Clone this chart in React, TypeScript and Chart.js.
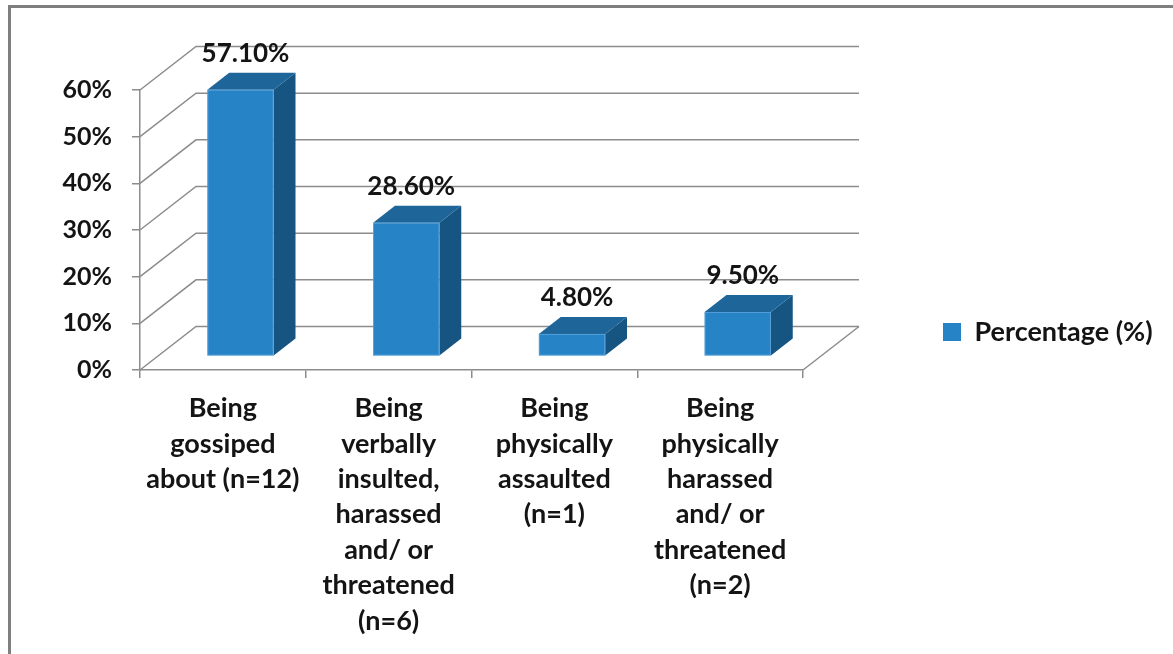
import React, { useEffect, useRef } from 'react';
import { Chart, registerables } from 'chart.js';

Chart.register(...registerables);

// ---------- data ----------
const categories: string[][] = [
  ['Being', 'gossiped', 'about (n=12)'],
  ['Being', 'verbally', 'insulted,', 'harassed', 'and/ or', 'threatened', '(n=6)'],
  ['Being', 'physically', 'assaulted', '(n=1)'],
  ['Being', 'physically', 'harassed', 'and/ or', 'threatened', '(n=2)'],
];
const seriesLabel = 'Percentage (%)';
const percentages = [57.1, 28.6, 4.8, 9.5];
const yMin = 0;
const yMax = 60;
const yStep = 10;

// ---------- styles ----------
const FONT = "Lato, 'Open Sans', sans-serif";
const TEXT = '#141414';
const GRID = '#8c8c8c';
const FRONT = '#2683c6';
const TOP = '#1e6599';
const SIDE = '#165582';
const EDGE = 'rgba(120,180,230,0.55)';
// 3D projection of the full depth of the plot
const DX = 56;
const DY = -43.5;
// bar depth position (fraction of full depth)
const F1 = 0.315;
const F2 = 0.705;
// legend placement (left edge of legend box, vertical centre)
const LEGEND_LEFT = 933;
const LEGEND_CY = 332;

const threeD = {
  id: 'threeD',
  afterLayout(chart: any) {
    const lg = chart.legend;
    if (!lg) return;
    lg.left = LEGEND_LEFT;
    lg.right = chart.width;
    lg.width = lg.right - lg.left;
    lg.top = LEGEND_CY - 50;
    lg.bottom = LEGEND_CY + 50;
    lg.height = 100;
  },
  beforeDraw(chart: any) {
    const ctx = chart.ctx;
    ctx.save();
    ctx.strokeStyle = '#7f7f7f';
    ctx.lineWidth = 3;
    ctx.strokeRect(9.5, 6.5, chart.width + 40, chart.height + 40);
    ctx.restore();
  },
  beforeDatasetsDraw(chart: any) {
    const { ctx, chartArea } = chart;
    const { left, right, bottom } = chartArea;
    const yScale = chart.scales.y;
    ctx.save();
    // back wall + side wall gridlines
    ctx.strokeStyle = GRID;
    ctx.lineWidth = 1.5;
    yScale.ticks.forEach((t: any) => {
      const py = yScale.getPixelForValue(t.value);
      ctx.beginPath();
      ctx.moveTo(left, py);
      ctx.lineTo(left + DX, py + DY);
      ctx.lineTo(right + DX, py + DY);
      ctx.stroke();
    });
    // floor right edge
    ctx.beginPath();
    ctx.moveTo(right, bottom);
    ctx.lineTo(right + DX, bottom + DY);
    ctx.stroke();

    // 3D bars
    const meta = chart.getDatasetMeta(0);
    const ds = chart.data.datasets[0];
    const ddx = (F2 - F1) * DX;
    const ddy = (F2 - F1) * DY;
    meta.data.forEach((el: any, i: number) => {
      const p = el.getProps(['x', 'y', 'base', 'width'], true);
      const xL = p.x - p.width / 2 + F1 * DX;
      const xR = p.x + p.width / 2 + F1 * DX;
      const yT = p.y + F1 * DY;
      const yB = p.base + F1 * DY;
      // side
      ctx.fillStyle = SIDE;
      ctx.beginPath();
      ctx.moveTo(xR, yT);
      ctx.lineTo(xR + ddx, yT + ddy);
      ctx.lineTo(xR + ddx, yB + ddy);
      ctx.lineTo(xR, yB);
      ctx.closePath();
      ctx.fill();
      // top
      ctx.fillStyle = TOP;
      ctx.beginPath();
      ctx.moveTo(xL, yT);
      ctx.lineTo(xL + ddx, yT + ddy);
      ctx.lineTo(xR + ddx, yT + ddy);
      ctx.lineTo(xR, yT);
      ctx.closePath();
      ctx.fill();
      // front
      ctx.fillStyle = FRONT;
      ctx.fillRect(xL, yT, xR - xL, yB - yT);
      ctx.strokeStyle = EDGE;
      ctx.lineWidth = 1;
      ctx.strokeRect(xL + 0.5, yT + 0.5, xR - xL - 1, yB - yT - 1);

      // data label
      const v = ds.data[i] as number;
      ctx.fillStyle = TEXT;
      ctx.font = `bold 26px ${FONT}`;
      ctx.textAlign = 'center';
      ctx.textBaseline = 'middle';
      ctx.fillText(v.toFixed(2) + '%', (xL + xR) / 2 + 5, yT + ddy - 19);
    });
    ctx.restore();
    return false;
  },
};

export default function App() {
  const ref = useRef<HTMLCanvasElement>(null);
  useEffect(() => {
    const chart = new Chart(ref.current as HTMLCanvasElement, {
      type: 'bar',
      data: {
        labels: categories,
        datasets: [
          {
            label: seriesLabel,
            data: percentages,
            backgroundColor: FRONT,
            borderWidth: 0,
            categoryPercentage: 1,
            barPercentage: 0.4,
          },
        ],
      },
      options: {
        responsive: false,
        animation: false,
        layout: { padding: { top: 90, right: 170, bottom: 0, left: 0 } },
        scales: {
          x: {
            afterFit: (s: any) => {
              s.height = 284;
            },
            grid: {
              offset: true,
              drawOnChartArea: false,
              drawTicks: true,
              tickLength: 8,
              color: GRID,
              lineWidth: 1.5,
            },
            border: { display: true, color: GRID, width: 1.5 },
            ticks: {
              color: TEXT,
              padding: 13,
              maxRotation: 0,
              autoSkip: false,
              font: { family: FONT, weight: 'bold', size: 27, lineHeight: 1.31 },
            },
          },
          y: {
            min: yMin,
            max: yMax,
            afterFit: (s: any) => {
              s.width = 140;
            },
            grid: {
              drawOnChartArea: false,
              drawTicks: true,
              tickLength: 8,
              color: GRID,
              lineWidth: 1.5,
            },
            border: { display: true, color: GRID, width: 1.5 },
            ticks: {
              stepSize: yStep,
              color: TEXT,
              padding: 20,
              font: { family: FONT, weight: 'bold', size: 25 },
              callback: (v: any) => `${v}%`,
            },
          },
        },
        plugins: {
          legend: {
            position: 'right',
            align: 'center',
            maxWidth: 200,
            labels: {
              padding: 10,
              boxWidth: 18,
              boxHeight: 18,
              color: TEXT,
              font: { family: FONT, weight: 'bold', size: 27 },
            },
          },
          tooltip: { enabled: false },
        },
      },
      plugins: [threeD],
    } as any);
    return () => chart.destroy();
  }, []);
  return (
    <div style={{ position: 'fixed', left: 0, top: 0, width: 1173, height: 654, background: '#fff' }}>
      <canvas ref={ref} width={1173} height={654} style={{ display: 'block', width: 1173, height: 654 }} />
    </div>
  );
}
